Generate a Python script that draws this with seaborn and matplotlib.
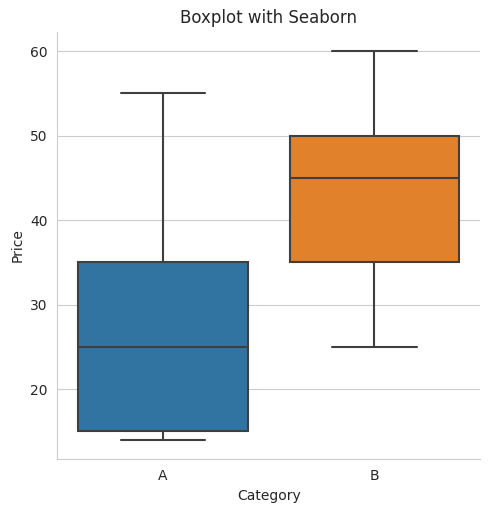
import matplotlib
matplotlib.use("Agg")
import matplotlib.pyplot as plt
import seaborn as sns
import pandas as pd

categories = ["A", "B"]
values_a = [14, 15, 25, 35, 55]
values_b = [25, 35, 45, 50, 60]

df = pd.DataFrame({
    "Category": ["A"] * len(values_a) + ["B"] * len(values_b),
    "Price": values_a + values_b,
})

sns.set_style("whitegrid")
fig, ax = plt.subplots(figsize=(4.89, 5.12), dpi=100)
sns.boxplot(data=df, x="Category", y="Price", hue="Category", order=categories,
            palette=["#1f77b4", "#ff7f0e"], saturation=0.75, linecolor="#3f3f3f",
            linewidth=1.5, legend=False, ax=ax)
sns.despine(ax=ax)
ax.set_title("Boxplot with Seaborn")
fig.subplots_adjust(left=0.117, right=0.982, top=0.938, bottom=0.103)
fig.savefig("out.png")
